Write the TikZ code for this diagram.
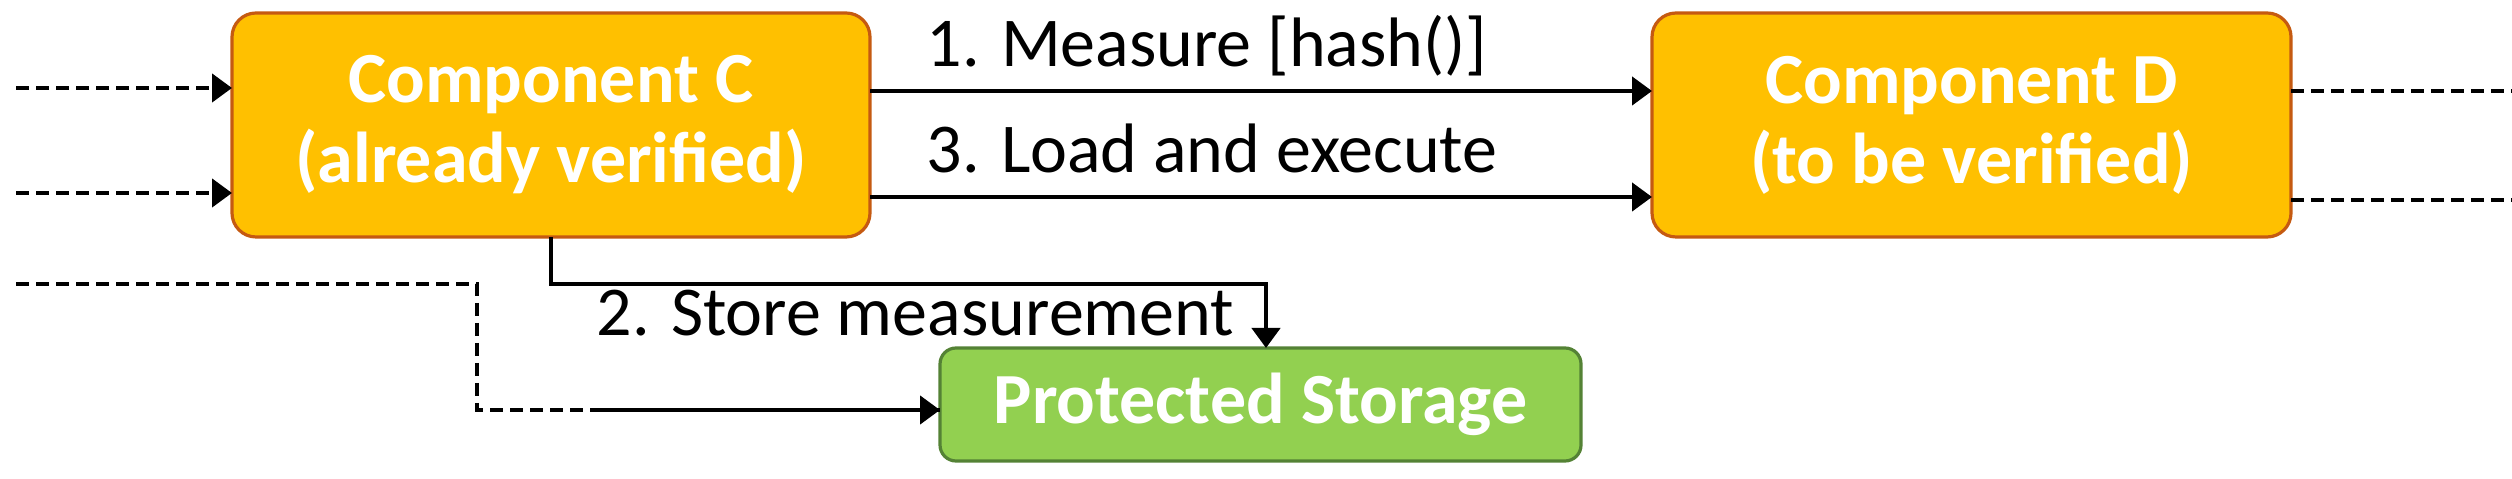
\documentclass[tikz,border=0pt]{standalone}
\usepackage{fontspec}
\setmainfont{Carlito}
\usetikzlibrary{arrows.meta}
\definecolor{ofill}{HTML}{FFC000}
\definecolor{oline}{HTML}{C55A11}
\definecolor{gfill}{HTML}{92D050}
\definecolor{gline}{HTML}{548235}
\begin{document}
\begin{tikzpicture}[x=0.25pt,y=-0.25pt,
 box/.style={draw=oline,fill=ofill,line width=0.8pt,rounded corners=6pt},
 gbox/.style={draw=gline,fill=gfill,line width=0.8pt,rounded corners=4pt},
 btxt/.style={text=white,font=\fontsize{18}{20}\selectfont\bfseries,align=center},
 lbl/.style={font=\fontsize{17.5}{20}\selectfont,anchor=base west,inner sep=0pt},
 arr/.style={line width=1.1pt,-{Triangle[length=5pt,width=7pt]}},
 dsh/.style={line width=1.1pt,dash pattern=on 3.2pt off 1.8pt},
 darr/.style={dsh,-{Triangle[length=5pt,width=7pt]}}]
\useasboundingbox (0,0) rectangle (2512,479);
\draw[box] (232,13) rectangle (870,237);
\draw[box] (1652,13) rectangle (2291,237);
\draw[gbox] (940,348) rectangle (1581,461);
\node[btxt] (C) at (551,125) {Component C\\(already verified)};
\node[btxt] (D) at (1971.5,125) {Component D\\(to be verified)};
\node[btxt] (P) at (1260.5,404.5) {Protected Storage};
\coordinate (ca) at (870,91); \coordinate (cb) at (870,197);
\coordinate (da) at (1652,91); \coordinate (db) at (1652,197);
\coordinate (l1) at (16,88); \coordinate (l2) at (16,193);
\coordinate (cl1) at (232,88); \coordinate (cl2) at (232,193);
\coordinate (r1) at (2291,91); \coordinate (r2) at (2291,200);
\coordinate (e1) at (2512,91); \coordinate (e2) at (2512,200);
\draw[arr] (ca) -- (da);
\draw[arr] (cb) -- (db);
\draw[darr] (l1) -- (cl1);
\draw[darr] (l2) -- (cl2);
\draw[dsh] (r1) -- (e1);
\draw[dsh] (r2) -- (e2);
\coordinate (cbot) at (551,237); \coordinate (ptop) at (1266,348);
\draw[arr] (cbot) -- (551,284) -- (1266,284) -- (ptop);
\coordinate (s) at (16,284); \coordinate (pl) at (940,410);
\draw[dsh] (s) -- (477,284) -- (477,410) -- (pl);
\draw[darr] (600,410) -- (pl);
\node[lbl] (t1) at (926,67) {1. Measure [hash()]};
\node[lbl] (t3) at (926,173) {3. Load and execute};
\node[lbl] (t2) at (596,336) {2. Store measurement};
\end{tikzpicture}
\end{document}
